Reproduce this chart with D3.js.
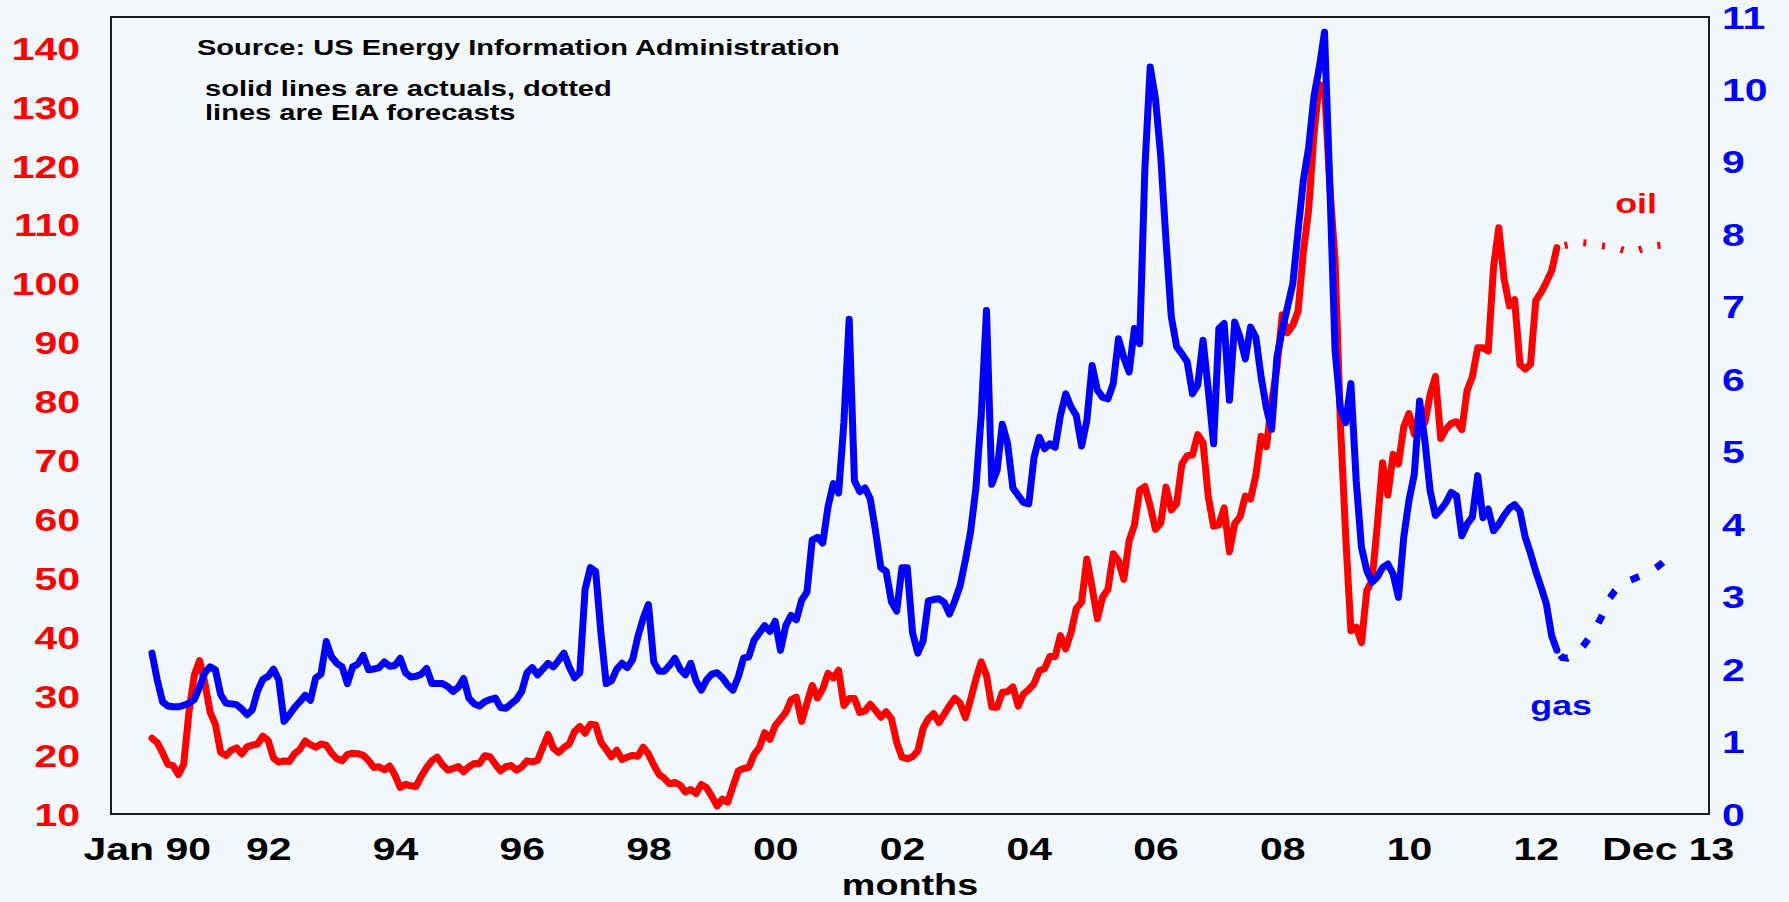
<!DOCTYPE html>
<html>
<head>
<meta charset="utf-8">
<script src="https://cdn.jsdelivr.net/npm/d3@7"></script>
<style>
  html, body { margin: 0; padding: 0; background: #f3f8fd; }
  svg { display: block; }
  text { font-family: "Liberation Sans", Arial, Helvetica, sans-serif; font-weight: bold; }
</style>
</head>
<body>
<script>
const w = 1789, h = 902;
const red = "#ff0000";
const blue = "#0000ff";
const SX = 1.28; // lettering in the original is stretched sideways

// monthly values, month 0 = Jan 1990
const oilActual = [
  22.86, 22.11, 20.39, 18.43, 18.20, 16.70, 18.45, 27.31, 33.51, 36.04, 32.33, 27.28,
  25.23, 20.48, 19.90, 20.83, 21.23, 20.19, 21.40, 21.69, 21.89, 23.23, 22.46, 19.50,
  18.79, 19.01, 18.92, 20.23, 20.98, 22.39, 21.78, 21.34, 21.88, 21.69, 20.34, 19.41,
  19.03, 20.09, 20.32, 20.25, 19.95, 19.09, 17.89, 18.01, 17.50, 18.15, 16.61, 14.52,
  15.03, 14.78, 14.68, 16.42, 17.89, 19.06, 19.66, 18.38, 17.45, 17.72, 18.07, 17.16,
  18.04, 18.57, 18.54, 19.90, 19.74, 18.45, 17.33, 18.02, 18.23, 17.43, 17.99, 19.03,
  18.85, 19.09, 21.33, 23.50, 21.17, 20.42, 21.30, 21.90, 23.97, 24.88, 23.71, 25.23,
  25.13, 22.18, 20.97, 19.70, 20.82, 19.26, 19.66, 19.95, 19.80, 21.33, 20.19, 18.33,
  16.72, 16.06, 15.12, 15.35, 14.91, 13.72, 14.17, 13.47, 15.03, 14.46, 13.00, 11.35,
  12.52, 12.01, 14.68, 17.31, 17.72, 17.92, 20.10, 21.28, 23.80, 22.69, 25.00, 26.10,
  27.26, 29.37, 29.84, 25.72, 28.79, 31.82, 29.70, 31.26, 33.88, 33.11, 34.42, 28.44,
  29.59, 29.61, 27.24, 27.49, 28.63, 27.60, 26.43, 27.37, 26.20, 22.17, 19.64, 19.39,
  19.72, 20.72, 24.53, 26.18, 27.04, 25.52, 26.97, 28.39, 29.66, 28.84, 26.35, 29.46,
  32.95, 35.83, 33.51, 28.17, 28.11, 30.66, 30.75, 31.57, 28.31, 30.34, 31.11, 32.13,
  34.31, 34.69, 36.74, 36.75, 40.28, 38.03, 40.78, 44.90, 45.94, 53.28, 48.47, 43.15,
  46.84, 48.15, 54.19, 52.98, 49.83, 56.35, 59.00, 64.99, 65.59, 62.26, 58.32, 59.41,
  65.49, 61.63, 62.69, 69.44, 70.84, 70.95, 74.41, 73.04, 63.80, 58.89, 59.08, 61.96,
  54.51, 59.28, 60.44, 63.98, 63.46, 67.49, 74.12, 72.36, 79.92, 85.80, 94.77, 91.69,
  92.97, 95.39, 105.45, 112.58, 125.40, 133.88, 133.37, 116.67, 104.11, 76.61, 57.31, 41.12,
  41.71, 39.09, 47.94, 49.65, 59.03, 69.64, 64.15, 71.05, 69.41, 75.72, 77.99, 74.47,
  78.33, 76.39, 81.20, 84.29, 73.74, 75.34, 76.32, 76.60, 75.24, 81.89, 84.25, 89.15,
  89.17, 88.58, 102.86, 109.53, 100.90, 96.26, 97.30, 86.33, 85.52, 86.32, 97.16, 98.56,
  100.27, 102.20, 106.16
];

const gasActual = [
  2.22, 1.85, 1.55, 1.49, 1.48, 1.48, 1.50, 1.53, 1.58, 1.75, 1.95, 2.03,
  1.99, 1.65, 1.53, 1.52, 1.51, 1.45, 1.37, 1.44, 1.70, 1.86, 1.90, 2.00,
  1.85, 1.28, 1.37, 1.47, 1.55, 1.64, 1.57, 1.88, 1.93, 2.38, 2.17, 2.08,
  2.03, 1.80, 2.03, 2.07, 2.19, 1.99, 2.00, 2.02, 2.10, 2.04, 2.05, 2.15,
  1.95, 1.89, 1.90, 1.93, 2.01, 1.80, 1.80, 1.80, 1.76, 1.69, 1.75, 1.87,
  1.60, 1.52, 1.49, 1.55, 1.58, 1.60, 1.47, 1.46, 1.52, 1.58, 1.69, 1.95,
  2.02, 1.92, 2.00, 2.08, 2.03, 2.12, 2.22, 2.03, 1.88, 1.95, 3.10, 3.40,
  3.35, 2.50, 1.80, 1.84, 2.00, 2.08, 2.02, 2.13, 2.45, 2.70, 2.89, 2.10,
  1.97, 1.97, 2.05, 2.15, 2.00, 1.92, 2.08, 1.84, 1.71, 1.85, 1.93, 1.95,
  1.88, 1.78, 1.71, 1.89, 2.15, 2.17, 2.40, 2.50, 2.60, 2.52, 2.66, 2.26,
  2.60, 2.74, 2.68, 2.95, 3.06, 3.78, 3.82, 3.74, 4.24, 4.56, 4.43, 5.40,
  6.83, 4.60, 4.45, 4.50, 4.35, 3.90, 3.40, 3.35, 2.93, 2.80, 3.40, 3.40,
  2.50, 2.22, 2.39, 2.94, 2.96, 2.97, 2.92, 2.76, 2.94, 3.15, 3.50, 3.90,
  4.50, 5.50, 6.95, 4.55, 4.74, 5.38, 5.11, 4.50, 4.40, 4.30, 4.28, 4.92,
  5.20, 5.04, 5.11, 5.06, 5.50, 5.80, 5.62, 5.50, 5.08, 5.43, 6.19, 5.85,
  5.75, 5.73, 5.94, 6.56, 6.30, 6.10, 6.70, 6.49, 8.93, 10.31, 9.87, 9.07,
  7.90, 6.86, 6.45, 6.35, 6.24, 5.80, 5.92, 6.54, 5.85, 5.11, 6.70, 6.77,
  5.71, 6.79, 6.58, 6.28, 6.72, 6.58, 6.03, 5.60, 5.31, 6.31, 6.68, 7.00,
  7.32, 8.05, 8.75, 9.20, 9.90, 10.30, 10.79, 8.70, 6.40, 5.60, 5.40, 5.94,
  4.60, 3.68, 3.36, 3.20, 3.27, 3.40, 3.45, 3.31, 2.99, 3.82, 4.33, 4.69,
  5.70, 5.15, 4.46, 4.12, 4.20, 4.30, 4.44, 4.39, 3.84, 4.00, 4.10, 4.67,
  4.09, 4.21, 3.91, 4.00, 4.12, 4.22, 4.27, 4.18, 3.82, 3.60, 3.35, 3.13,
  2.90, 2.46, 2.26
];

// EIA forecasts, Mar 2012 (month 266) to Dec 2013 (month 287)
const forecastStart = 266;
const oilForecast = [
  106.16, 106.4, 106.6, 106.8, 107.0, 107.0, 106.9, 106.7, 106.5, 106.4, 106.3,
  106.1, 105.9, 105.6, 105.4, 105.6, 105.9, 106.2, 106.4, 106.5, 106.6, 106.6
];
const gasForecast = [
  2.26, 2.16, 2.15, 2.18, 2.23, 2.32, 2.42, 2.52, 2.66, 2.80, 2.98,
  3.08, 3.15, 3.20, 3.23, 3.26, 3.29, 3.32, 3.36, 3.41, 3.47, 3.54
];

const oilTicks = [10, 20, 30, 40, 50, 60, 70, 80, 90, 100, 110, 120, 130, 140];
const gasTicks = [0, 1, 2, 3, 4, 5, 6, 7, 8, 9, 10, 11];
const xTickMonths = [-1, 22, 46, 70, 94, 118, 142, 166, 190, 214, 238, 262, 287];
const xTickLabels = ["Jan 90", "92", "94", "96", "98", "00", "02", "04", "06", "08", "10", "12", "Dec 13"];

const box = { left: 111, right: 1709, top: 17, bottom: 814 };

const x = d3.scaleLinear().domain([-7.76, 294.8]).range([box.left, box.right]);
const yOil = d3.scaleLinear().domain([10, 145.3]).range([box.bottom, box.top]);
const yGas = d3.scaleLinear().domain([0, 11]).range([box.bottom, box.top]);

const svg = d3.select("body").append("svg").attr("width", w).attr("height", h);

svg.append("rect")
  .attr("x", box.left).attr("y", box.top)
  .attr("width", box.right - box.left).attr("height", box.bottom - box.top)
  .attr("fill", "none").attr("stroke", "#1c1c1c").attr("stroke-width", 2);

const pts = (arr, start) => arr.map((v, i) => [start + i, v]);
const oilLine = d3.line().x(d => x(d[0])).y(d => yOil(d[1]));
const gasLine = d3.line().x(d => x(d[0])).y(d => yGas(d[1]));

const lines = svg.append("g").attr("fill", "none").attr("stroke-width", 7);

lines.append("path")
  .attr("d", oilLine(pts(oilActual, 0)))
  .attr("stroke", red).attr("stroke-linejoin", "round").attr("stroke-linecap", "round");
lines.append("path")
  .attr("d", oilLine(pts(oilForecast, forecastStart)))
  .attr("stroke", red).attr("stroke-dasharray", "3,16").attr("stroke-dashoffset", -8);

lines.append("path")
  .attr("d", gasLine(pts(gasActual, 0)))
  .attr("stroke", blue).attr("stroke-linejoin", "round").attr("stroke-linecap", "round");
lines.append("path")
  .attr("d", gasLine(pts(gasForecast, forecastStart)))
  .attr("stroke", blue).attr("stroke-dasharray", "9,19").attr("stroke-dashoffset", -6);

// axes: no ticks, no domain, just stretched labels
const stretch = (dx, dy) => `translate(${dx},${dy}) scale(${SX},1)`;

svg.append("g")
  .attr("transform", `translate(${box.left},0)`)
  .call(d3.axisLeft(yOil).tickValues(oilTicks).tickSize(0))
  .call(g => g.select(".domain").remove())
  .selectAll("text")
    .attr("x", null).attr("dy", null)
    .attr("fill", red).attr("font-size", 32)
    .attr("transform", stretch(-31, 11));

svg.append("g")
  .attr("transform", `translate(${box.right},0)`)
  .call(d3.axisRight(yGas).tickValues(gasTicks).tickSize(0))
  .call(g => g.select(".domain").remove())
  .selectAll("text")
    .attr("x", null).attr("dy", null)
    .attr("fill", blue).attr("font-size", 32)
    .attr("transform", stretch(13, 11));

svg.append("g")
  .attr("transform", `translate(0,${box.bottom})`)
  .call(d3.axisBottom(x).tickValues(xTickMonths).tickSize(0).tickFormat((d, i) => xTickLabels[i]))
  .call(g => g.select(".domain").remove())
  .selectAll("text")
    .attr("y", null).attr("dy", null)
    .attr("fill", "#000").attr("font-size", 32)
    .attr("transform", stretch(0, 46));

const label = (txt, px, py, size, color, anchor) =>
  svg.append("text")
    .text(txt)
    .attr("transform", stretch(px, py))
    .attr("font-size", size)
    .attr("fill", color)
    .attr("text-anchor", anchor);

label("months", (box.left + box.right) / 2, 895, 29.5, "#000", "middle");

label("Source: US Energy Information Administration", 197, 55, 22.7, "#000", "start");
label("solid lines are actuals, dotted", 205, 96, 22.7, "#000", "start");
label("lines are EIA forecasts", 205, 120, 22.7, "#000", "start");

label("oil", x(281), yOil(112), 28, red, "middle");
label("gas", x(266.8), yGas(1.37), 28, blue, "middle");
</script>
</body>
</html>
